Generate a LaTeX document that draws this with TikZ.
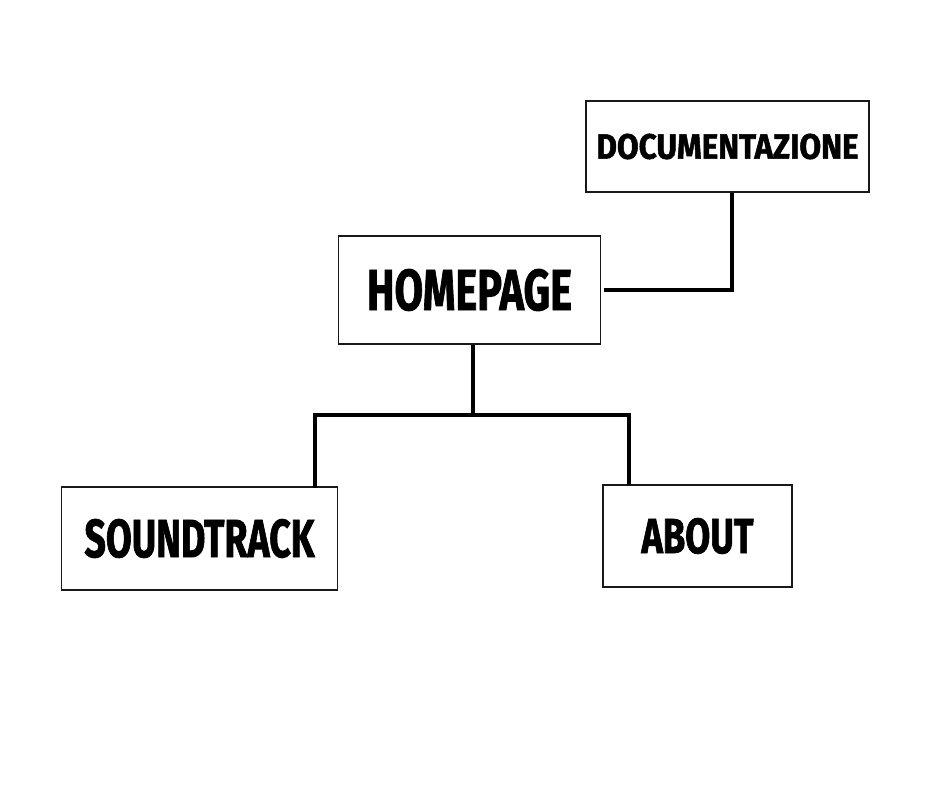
\documentclass[tikz,border=0pt]{standalone}
\usepackage{fontspec}
\usepackage{graphicx}
\setmainfont{Fira Sans}[BoldFeatures={FakeBold=1.6}]
\usetikzlibrary{positioning}

% Condensed heavy caption: text squeezed into a given width and cap height
\newcommand\fitlabel[3]{\resizebox{#1pt}{#2pt}{\bfseries #3}}

\tikzset{
  page/.style={draw=black!90, line width=1.6pt, fill=white, inner sep=0pt},
  conn/.style={draw=black, line width=4pt}
}

\begin{document}
\begin{tikzpicture}[x=1pt, y=-1pt]
  \useasboundingbox[fill=white] (0,0) rectangle (940,788);

  % pages of the site
  \node[page, minimum width=283pt, minimum height=91pt]  (doc)   at (727.5,146.5) {\fitlabel{262}{25}{DOCUMENTAZIONE}};
  \node[page, minimum width=262pt, minimum height=108pt] (home)  at (469.5,290)   {\fitlabel{205}{41}{HOMEPAGE}};
  \node[page, minimum width=276pt, minimum height=103pt] (sound) at (199.5,538.5) {\fitlabel{230}{38}{SOUNDTRACK}};
  \node[page, minimum width=189pt, minimum height=102pt] (about) at (697.5,536)   {\fitlabel{112}{35}{ABOUT}};

  % junction points of the tree
  \coordinate (bus)  at (472.5,415);
  \coordinate (busL) at (315,415);
  \coordinate (busR) at (628.5,415);
  \coordinate (docdrop) at (731.7,290);

  % homepage to documentation
  \draw[conn] ([xshift=3pt]home.east) -- (docdrop) -- (doc.south -| docdrop);

  % homepage to the two lower pages
  \draw[conn] (home.south -| bus) -- (bus);
  \draw[conn, line cap=rect] (busL) -- (busR);
  \draw[conn] ([yshift=-1.5pt]sound.north -| busL) -- (busL);
  \draw[conn] ([yshift=-1pt]about.north -| busR) -- (busR);
\end{tikzpicture}
\end{document}
